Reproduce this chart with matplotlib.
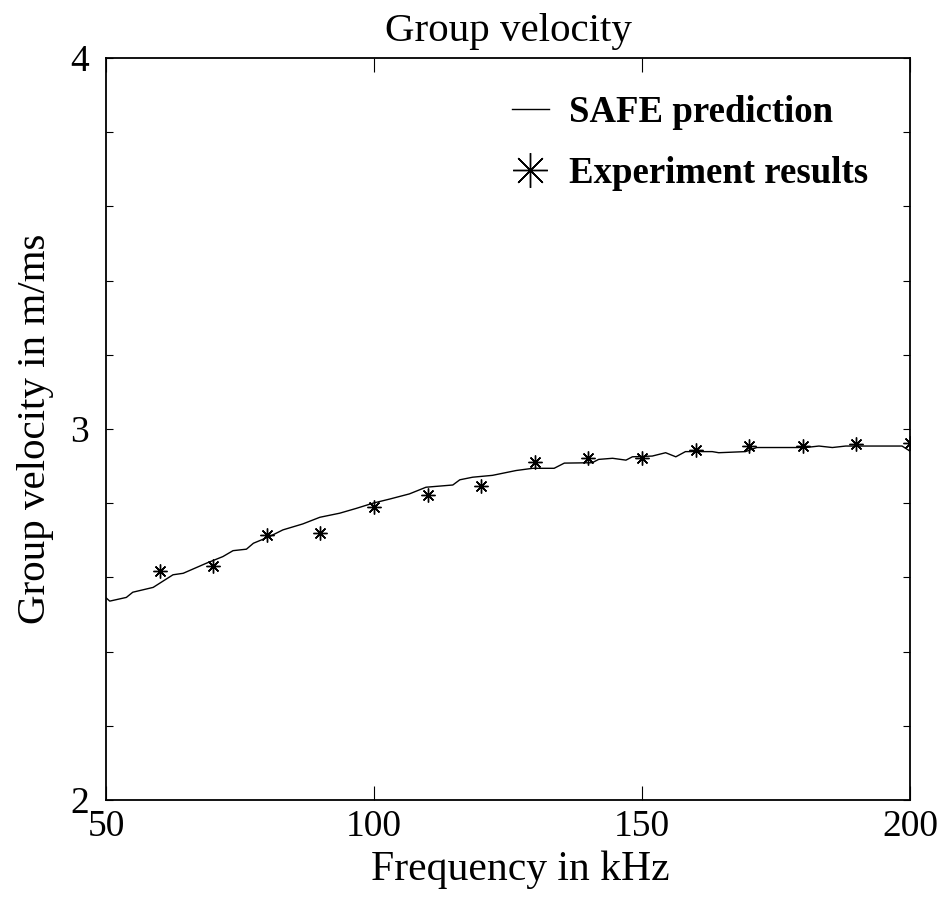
import matplotlib
matplotlib.use("Agg")
import matplotlib.pyplot as plt
from matplotlib.ticker import FixedLocator, FuncFormatter

plt.rcParams['font.family'] = ['Liberation Serif', 'DejaVu Serif']

# SAFE prediction curve
safe_freq = [50, 50.7, 53.8, 55, 58.8, 62.5, 64.4, 68.7, 71.8, 73.7, 76.2, 77.5,
             80.5, 83, 86.7, 89.9, 93.6, 96.7, 99.8, 102.9, 106.6, 109.7, 114.7,
             116, 118.4, 122.1, 126.5, 129.6, 133.6, 135.5, 140.7, 141.9, 144.5,
             147, 148.2, 151.9, 154.4, 156.3, 158.1, 163.1, 164.3, 169.3, 171.4,
             180.5, 183, 185.5, 188, 198.5, 199.7, 200]
safe_vel = [2.545, 2.536, 2.546, 2.560, 2.573, 2.607, 2.611, 2.638, 2.656, 2.672,
            2.676, 2.692, 2.710, 2.728, 2.744, 2.762, 2.773, 2.786, 2.800, 2.811,
            2.825, 2.843, 2.849, 2.863, 2.870, 2.875, 2.888, 2.894, 2.894, 2.908,
            2.909, 2.918, 2.921, 2.916, 2.925, 2.927, 2.936, 2.925, 2.939, 2.939,
            2.936, 2.939, 2.950, 2.950, 2.954, 2.950, 2.954, 2.954, 2.943, 2.940]

# experiment points
exp_freq = [60, 70, 80, 90, 100, 110, 120, 130, 140, 150, 160, 170, 180, 190, 200]
exp_vel = [2.616, 2.630, 2.714, 2.719, 2.791, 2.822, 2.846, 2.912, 2.921, 2.921,
           2.942, 2.954, 2.954, 2.959, 2.963]

fig = plt.figure(figsize=(9.48, 9.10), dpi=100)
ax = fig.add_axes([0.1118, 0.1209, 0.8482, 0.8154])

ax.plot(safe_freq, safe_vel, color='black', lw=1.0, label='SAFE prediction')
ax.plot(exp_freq, exp_vel, linestyle='none', marker=(8, 2, 0), markersize=10,
        markeredgewidth=1.0, color='black', label='Experiment results')

ax.set_xlim(50, 200)
ax.set_ylim(2, 4)
ax.xaxis.set_major_locator(FixedLocator([50, 100, 150, 200]))
ax.yaxis.set_major_locator(FixedLocator([2 + 0.2 * i for i in range(11)]))
ax.yaxis.set_major_formatter(FuncFormatter(
    lambda v, p: '%d' % round(v) if abs(v - round(v)) < 1e-6 else ''))
ax.tick_params(axis='x', direction='in', length=10, width=0.8, top=True,
               labelsize=27, pad=7)
ax.tick_params(axis='y', direction='in', length=5, width=0.8, right=True,
               labelsize=27, pad=12)
for s in ax.spines.values():
    s.set_linewidth(1.3)

ax.set_title('Group velocity', fontsize=29.5, pad=12)
ax.set_xlabel('Frequency in kHz', fontsize=30, labelpad=10)
ax.set_ylabel('Group velocity in m/ms', fontsize=29.5, labelpad=12)
ax.xaxis.set_label_coords(0.515, -0.068)

ax.legend(loc='upper right', bbox_to_anchor=(0.948, 0.95), frameon=False,
          prop={'weight': 'bold', 'size': 26.5}, handlelength=1.0,
          handletextpad=0.55, labelspacing=0.7, markerscale=2.5,
          borderpad=0, borderaxespad=0)

fig.savefig('out.png', dpi=100)
